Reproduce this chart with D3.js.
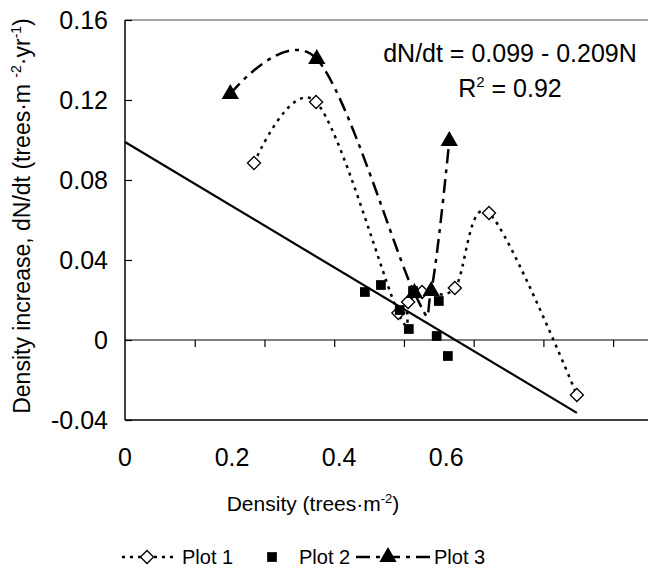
<!DOCTYPE html>
<html>
<head>
<meta charset="utf-8">
<script src="https://cdn.jsdelivr.net/npm/d3@7"></script>
<style>
  body { margin: 0; background: #fff; }
  svg text { font-family: Arial, "Liberation Sans", sans-serif; fill: #000; }
</style>
</head>
<body>
<svg id="chart" width="648" height="580"></svg>
<script>
// Plot 1 (open diamonds, dotted smooth line)
const plot1Density = [0.185, 0.274, 0.392, 0.406, 0.426, 0.473, 0.522, 0.648];
const plot1Increase = [0.0885, 0.119, 0.0135, 0.019, 0.024, 0.026, 0.0635, -0.0275];

// Plot 2 (filled squares, no line)
const plot2Density = [0.344, 0.367, 0.394, 0.407, 0.413, 0.45, 0.447, 0.463];
const plot2Increase = [0.024, 0.0275, 0.015, 0.0055, 0.0245, 0.0195, 0.002, -0.008];

// Plot 3 (filled triangles, long dash-dot smooth line)
const plot3Density = [0.151, 0.275, 0.415, 0.439, 0.465];
const plot3Increase = [0.123, 0.1405, 0.0235, 0.0245, 0.0995];

// Linear fit dN/dt = a + b*N
const fitIntercept = 0.099;
const fitSlope = -0.209;
const fitRange = [0, 0.648];

// Axis ticks
const yTicks = [-0.04, 0, 0.04, 0.08, 0.12, 0.16];
const xLabelTicks = [0, 0.2, 0.4, 0.6];
const zeroLineTicks = [0.1, 0.2, 0.3, 0.4, 0.5, 0.6, 0.7];

const legendNames = ['Plot 1', 'Plot 2', 'Plot 3'];

const svg = d3.select('#chart');
const tickFont = 25;

// plot area
const plotLeft = 125, plotTop = 20, plotRight = 648, plotBottom = 420;

const x = d3.scaleLinear().domain([0, 0.75]).range([plotLeft, plotRight]);
const xLabel = d3.scaleLinear().domain([0, 0.977]).range([plotLeft, plotRight]);
const y = d3.scaleLinear().domain([-0.04, 0.16]).range([plotBottom, plotTop]);

// frame
svg.append('line').attr('x1', plotLeft).attr('x2', plotRight).attr('y1', plotTop).attr('y2', plotTop)
  .attr('stroke', '#888').attr('stroke-width', 1.5);
svg.append('line').attr('x1', plotLeft).attr('x2', plotRight).attr('y1', plotBottom).attr('y2', plotBottom)
  .attr('stroke', '#000').attr('stroke-width', 1.5);

// y axis (ticks point into the plot)
const yAxis = d3.axisRight(y).tickValues(yTicks).tickSize(7).tickFormat('');
const yg = svg.append('g').attr('transform', `translate(${plotLeft},0)`).call(yAxis);
yg.select('.domain').attr('stroke-width', 1.5).attr('d', `M0,${plotTop}V${plotBottom}`);
yg.selectAll('.tick line').attr('stroke-width', 1.2);

svg.selectAll('.ylab')
  .data(yTicks)
  .enter()
  .append('text')
  .attr('class', 'ylab')
  .attr('x', 108)
  .attr('y', d => y(d))
  .attr('dy', '0.36em')
  .attr('text-anchor', 'end')
  .attr('font-size', tickFont)
  .text(d => (d === 0 ? '0' : d.toFixed(2)));

// horizontal axis at zero
const zeroAxis = d3.axisBottom(x).tickValues(zeroLineTicks).tickSize(7).tickFormat('');
const zg = svg.append('g').attr('transform', `translate(0,${y(0)})`).call(zeroAxis);
zg.select('.domain').attr('stroke-width', 1.2).attr('d', `M${plotLeft},0H${plotRight}`);
zg.selectAll('.tick line').attr('stroke-width', 1.2);

// bottom labels
svg.selectAll('.xlab')
  .data(xLabelTicks)
  .enter()
  .append('text')
  .attr('class', 'xlab')
  .attr('x', d => xLabel(d))
  .attr('y', 457)
  .attr('dy', '0.36em')
  .attr('text-anchor', 'middle')
  .attr('font-size', tickFont)
  .text(d => (d === 0 ? '0' : d.toFixed(1)));

// axis titles
const xt = svg.append('text')
  .attr('x', 313).attr('y', 511)
  .attr('text-anchor', 'middle')
  .attr('font-size', 21);
xt.append('tspan').text('Density (trees·m');
xt.append('tspan').attr('dy', -8).attr('font-size', 13).text('-2');
xt.append('tspan').attr('dy', 8).text(')');

const yt = svg.append('text')
  .attr('transform', 'translate(30,216) rotate(-90)')
  .attr('text-anchor', 'middle')
  .attr('font-size', 23);
yt.append('tspan').text('Density increase, dN/dt (trees·m ');
yt.append('tspan').attr('dy', -9).attr('font-size', 14).text('-2');
yt.append('tspan').attr('dy', 9).text('·yr');
yt.append('tspan').attr('dy', -9).attr('font-size', 14).text('-1');
yt.append('tspan').attr('dy', 9).text(')');

// regression line
svg.append('line')
  .attr('x1', x(fitRange[0])).attr('y1', y(fitIntercept + fitSlope * fitRange[0]))
  .attr('x2', x(fitRange[1])).attr('y2', y(fitIntercept + fitSlope * fitRange[1]))
  .attr('stroke', '#000').attr('stroke-width', 2.2);

// equation
svg.append('text')
  .attr('x', 510).attr('y', 62)
  .attr('text-anchor', 'middle')
  .attr('font-size', 25)
  .text('dN/dt = 0.099 - 0.209N');
const r2 = svg.append('text')
  .attr('x', 510).attr('y', 97)
  .attr('text-anchor', 'middle')
  .attr('font-size', 25);
r2.append('tspan').text('R');
r2.append('tspan').attr('dy', -10).attr('font-size', 15).text('2');
r2.append('tspan').attr('dy', 10).text(' = 0.92');

// series
const line = d3.line()
  .x(d => x(d[0]))
  .y(d => y(d[1]))
  .curve(d3.curveCardinal.tension(0));

const plot1 = d3.zip(plot1Density, plot1Increase);
const plot2 = d3.zip(plot2Density, plot2Increase);
const plot3 = d3.zip(plot3Density, plot3Increase);

const dash1 = '3,5';
const dash3 = '14,6,4,6';

svg.append('path')
  .attr('d', line(plot1))
  .attr('fill', 'none').attr('stroke', '#000')
  .attr('stroke-width', 2.5).attr('stroke-dasharray', dash1);

svg.append('path')
  .attr('d', line(plot3))
  .attr('fill', 'none').attr('stroke', '#000')
  .attr('stroke-width', 2.5).attr('stroke-dasharray', dash3);

const diamond = d3.symbol().type(d3.symbolDiamond2).size(110);
const square = d3.symbol().type(d3.symbolSquare).size(95);
const triangle = d3.symbol().type(d3.symbolTriangle).size(130);

svg.selectAll('.p1')
  .data(plot1)
  .enter()
  .append('path')
  .attr('class', 'p1')
  .attr('d', diamond)
  .attr('transform', d => `translate(${x(d[0])},${y(d[1])})`)
  .attr('fill', '#fff').attr('stroke', '#000').attr('stroke-width', 1.3);

svg.selectAll('.p2')
  .data(plot2)
  .enter()
  .append('path')
  .attr('class', 'p2')
  .attr('d', square)
  .attr('transform', d => `translate(${x(d[0])},${y(d[1])})`)
  .attr('fill', '#000');

svg.selectAll('.p3')
  .data(plot3)
  .enter()
  .append('path')
  .attr('class', 'p3')
  .attr('d', triangle)
  .attr('transform', d => `translate(${x(d[0])},${y(d[1])})`)
  .attr('fill', '#000');

// legend
const ly = 557;
const lg = svg.append('g');
lg.append('line').attr('x1', 122).attr('x2', 178).attr('y1', ly).attr('y2', ly)
  .attr('stroke', '#000').attr('stroke-width', 2.5).attr('stroke-dasharray', dash1);
lg.append('path').attr('d', diamond).attr('transform', `translate(147,${ly})`)
  .attr('fill', '#fff').attr('stroke', '#000').attr('stroke-width', 1.3);
lg.append('path').attr('d', square).attr('transform', `translate(272,${ly})`).attr('fill', '#000');
lg.append('line').attr('x1', 356).attr('x2', 430).attr('y1', ly).attr('y2', ly)
  .attr('stroke', '#000').attr('stroke-width', 2.5).attr('stroke-dasharray', dash3);
lg.append('path').attr('d', triangle).attr('transform', `translate(388,${ly})`).attr('fill', '#000');

lg.selectAll('text')
  .data(legendNames)
  .enter()
  .append('text')
  .attr('x', (d, i) => [182, 299, 434][i])
  .attr('y', ly)
  .attr('dy', '0.36em')
  .attr('font-size', 20)
  .text(d => d);
</script>
</body>
</html>
